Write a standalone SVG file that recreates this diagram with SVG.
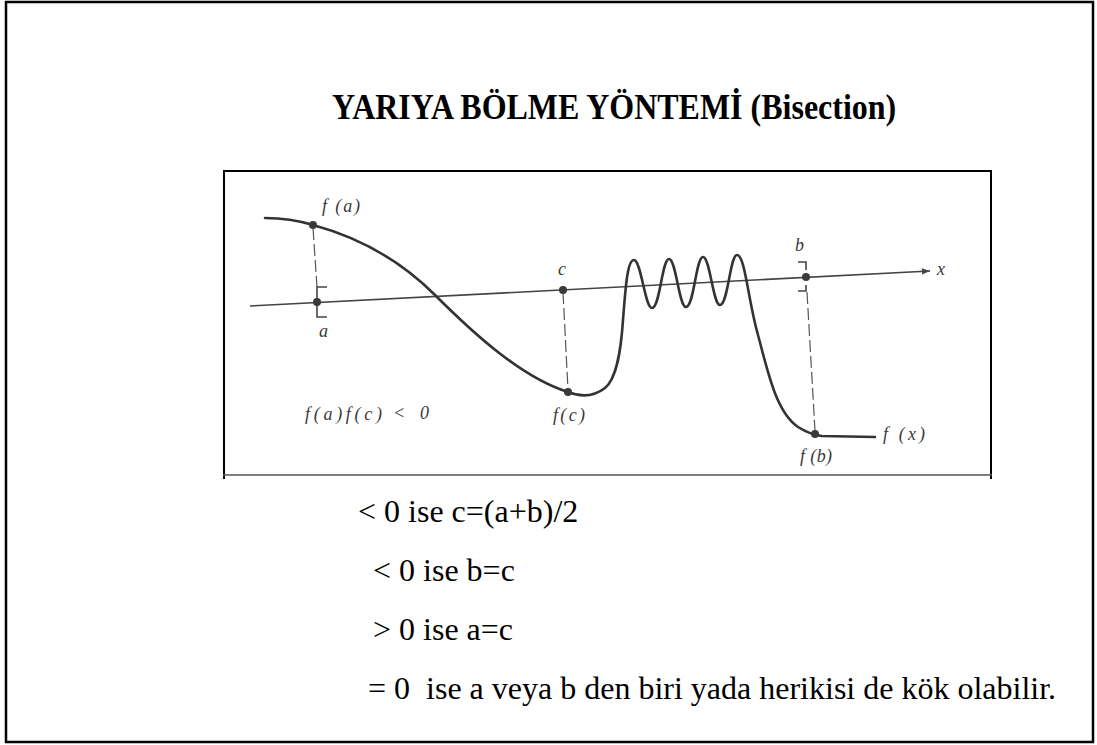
<svg xmlns="http://www.w3.org/2000/svg" width="1097" height="745" viewBox="0 0 1097 745">
<style>
.title{font-family:"Liberation Serif","Times New Roman",serif;font-weight:bold;font-size:32px;fill:#000}
.rule{font-family:"Liberation Serif","Times New Roman",serif;font-size:32px;fill:#000;white-space:pre}
.lbl{font-family:"Liberation Serif","Times New Roman",serif;font-style:italic;font-size:18px;fill:#3a3a3a}
.curve{fill:none;stroke:#333;stroke-width:2.6;stroke-linecap:round;stroke-linejoin:round}
.axis{fill:none;stroke:#444;stroke-width:1.6}
.dash{fill:none;stroke:#555;stroke-width:1.2;stroke-dasharray:12 4}
.brk{fill:none;stroke:#444;stroke-width:1.6}
.pt{fill:#3a3a3a}
</style>
<defs>
<marker id="arr" viewBox="0 0 10 10" refX="10" refY="5" markerWidth="15" markerHeight="8" markerUnits="userSpaceOnUse" orient="auto">
<path d="M0,1 L10,5 L0,9 Z" fill="#444"/>
</marker>
</defs>
<rect x="6" y="2" width="1087" height="740" fill="#fff" stroke="#000" stroke-width="2.5"/>
<g id="title" transform="translate(332,119) scale(1,1.15)">
<text class="title" x="0" y="0">YARIYA BÖLME YÖNTEMİ (Bisection)</text>
</g>
<g id="figure-frame">
<line x1="223" y1="171" x2="992" y2="171" stroke="#000" stroke-width="2"/>
<line x1="224" y1="171" x2="224" y2="479" stroke="#000" stroke-width="2"/>
<line x1="991" y1="171" x2="991" y2="479" stroke="#000" stroke-width="2"/>
<line x1="223" y1="475" x2="992" y2="475" stroke="#555" stroke-width="1.5"/>
</g>
<g id="connectors">
<line class="axis" x1="250" y1="306" x2="930" y2="271" marker-end="url(#arr)"/>
<line class="dash" x1="313" y1="228" x2="317" y2="287"/>
<line class="dash" x1="563" y1="292" x2="568" y2="390"/>
<line class="dash" x1="807" y1="292" x2="815" y2="431"/>
<path class="brk" d="M327,287 L317,287 L317,317 L327,317"/>
<path class="brk" d="M798,262 L806,262 L806,270 M806,285 L806,291 L798,291"/>
</g>
<g id="curve">
<path class="curve" d="M265,218 C285,218 300,221 313,225 C350,235 395,255 435,295 C470,330 520,377 568,392 C578,396 592,398 605,388 C617,378 621,350 623,320 C626,280 628,260 634,260 C641,260 645,308 652,308 C660,308 662,259 669,259 C676,259 679,307 686,307 C694,307 696,257 703,257 C710,257 713,305 720,305 C728,305 730,255 737,255 C745,255 748,300 758,335 C768,372 776,412 798,427 C806,432 812,435 822,436 L875,437"/>
</g>
<g id="points">
<circle class="pt" cx="313" cy="225" r="4"/>
<circle class="pt" cx="317" cy="302" r="4"/>
<circle class="pt" cx="563" cy="290" r="4"/>
<circle class="pt" cx="568" cy="392" r="4"/>
<circle class="pt" cx="806" cy="277" r="4"/>
<circle class="pt" cx="815" cy="434" r="4"/>
</g>
<g id="labels">
<text class="lbl" x="322" y="212" textLength="38" lengthAdjust="spacing">f (a)</text>
<text class="lbl" x="319" y="337">a</text>
<text class="lbl" x="558" y="275">c</text>
<text class="lbl" x="795" y="251">b</text>
<text class="lbl" x="937" y="275">x</text>
<text class="lbl" x="553" y="421" textLength="32" lengthAdjust="spacing">f(c)</text>
<text class="lbl" x="305" y="420" textLength="77" lengthAdjust="spacing">f(a)f(c)</text>
<text class="lbl" x="393" y="419">&lt;</text>
<text class="lbl" x="420" y="419">0</text>
<text class="lbl" x="883" y="440" textLength="42" lengthAdjust="spacing">f (x)</text>
<text class="lbl" x="800" y="462" textLength="32" lengthAdjust="spacing">f (b)</text>
</g>
<g id="rules">
<text class="rule" x="358" y="522">&lt; 0 ise c=(a+b)/2</text>
<text class="rule" x="373" y="581">&lt; 0 ise b=c</text>
<text class="rule" x="373" y="640">&gt; 0 ise a=c</text>
<text class="rule" x="368" y="699">= 0  ise a veya b den biri yada herikisi de kök olabilir.</text>
</g>
</svg>
